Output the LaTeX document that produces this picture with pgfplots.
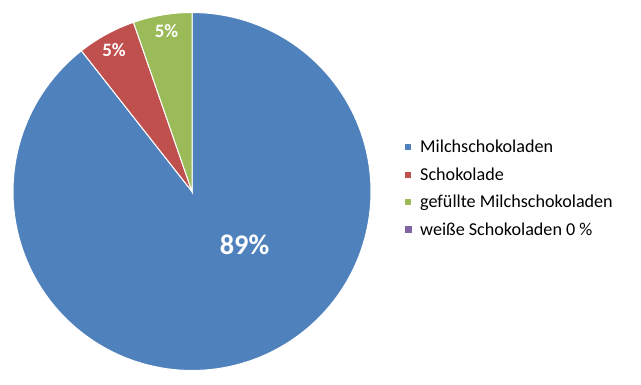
\documentclass[border=0pt]{standalone}
\usepackage{pgfplots}
\pgfplotsset{compat=1.18}
\usepackage{fontspec}
\setmainfont{Carlito}
\definecolor{cblue}{HTML}{4F81BD}
\definecolor{cred}{HTML}{C0504D}
\definecolor{cgreen}{HTML}{9BBB59}
\definecolor{cpurple}{HTML}{8064A2}
% shares in percent
\def\vA{89.4}% Milchschokoladen
\def\vB{5.3}%  Schokolade
\def\vC{5.3}%  gefüllte Milchschokoladen
\def\vD{0}%    weiße Schokoladen
\begin{document}
\begin{tikzpicture}
\pgfmathsetmacro{\aA}{90}
\pgfmathsetmacro{\aB}{\aA-3.6*\vA}
\pgfmathsetmacro{\aC}{\aB-3.6*\vB}
\pgfmathsetmacro{\aD}{\aC-3.6*\vC}
\def\cx{192}\def\cy{193.5}\def\R{179}
\begin{axis}[
  width=641bp, height=385bp, scale only axis,
  xmin=0, xmax=641, ymin=0, ymax=385,
  hide axis, clip=false,
  legend style={at={(axis cs:404,196.5)}, anchor=west, draw=none, fill=none,
    inner sep=0pt, font=\fontsize{18.2}{21}\selectfont, row sep=9.5bp,
    cells={anchor=west}},
  legend image code/.code={\fill[#1] (0bp,-3.4bp) rectangle (7bp,3.6bp);},
  /tikz/every even column/.append style={column sep=0bp},
]
\addplot[draw=white, line width=1bp, fill=cblue, domain=\aB:\aA, samples=160, variable=\t]
  ({\cx+\R*cos(t)},{\cy+\R*sin(t)}) -- (axis cs:\cx,\cy) -- cycle;
\addlegendentry{\hspace{6bp}Milchschokoladen}
\addplot[draw=white, line width=1bp, fill=cred, domain=\aC:\aB, samples=20, variable=\t]
  ({\cx+\R*cos(t)},{\cy+\R*sin(t)}) -- (axis cs:\cx,\cy) -- cycle;
\addlegendentry{\hspace{6bp}Schokolade}
\addplot[draw=white, line width=1bp, fill=cgreen, domain=\aD:\aC, samples=20, variable=\t]
  ({\cx+\R*cos(t)},{\cy+\R*sin(t)}) -- (axis cs:\cx,\cy) -- cycle;
\addlegendentry{\hspace{6bp}gefüllte Milchschokoladen}
\addlegendimage{fill=cpurple, draw=none}
\addlegendentry{\hspace{6bp}weiße Schokoladen 0 \%}
\node[text=white, font=\fontsize{28.5}{30}\selectfont\bfseries] at (axis cs:244.5,140) {89\%};
\node[text=white, font=\fontsize{19}{21}\selectfont\bfseries] at (axis cs:114,334.5) {5\%};
\node[text=white, font=\fontsize{19}{21}\selectfont\bfseries] at (axis cs:166.5,354) {5\%};
\path (axis cs:0,0) rectangle (axis cs:641,385);
\end{axis}
\end{tikzpicture}
\end{document}
